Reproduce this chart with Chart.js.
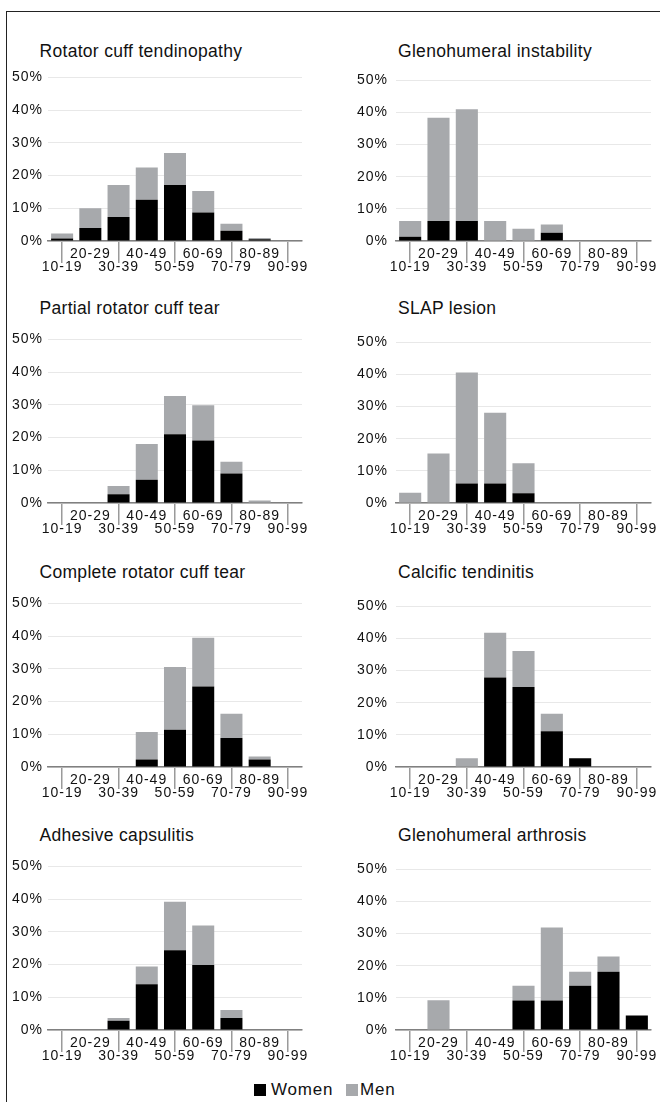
<!DOCTYPE html>
<html>
<head>
<meta charset="utf-8">
<script src="https://cdn.jsdelivr.net/npm/chart.js@4.4.1/dist/chart.umd.min.js"></script>
<style>
  html, body { margin: 0; padding: 0; background: #fff; }
  body { width: 660px; height: 1102px; position: relative; overflow: hidden; font-family: "Liberation Sans", Arial, sans-serif; }
  .frame { position: absolute; left: 6px; top: 11px; right: -4px; bottom: -4px; border-left: 1.5px solid #222; border-top: 1.5px solid #222; }
  .panel-title { position: absolute; font-size: 17.5px; line-height: 17.5px; letter-spacing: 0.3px; color: #111; white-space: nowrap; }
  canvas { position: absolute; }
  .sq { position: absolute; width: 12px; height: 12px; }
  .legend-text { position: absolute; font-size: 17px; line-height: 17px; letter-spacing: 0.8px; color: #111; }
</style>
</head>
<body>
<div class="frame"></div>
<div id="charts"></div>
<div class="sq" style="left:254px; top:1084px; background:#000;"></div>
<div class="legend-text" style="left:271px; top:1081px;">Women</div>
<div class="sq" style="left:346px; top:1084px; background:#a7a9ac;"></div>
<div class="legend-text" style="left:360px; top:1081px;">Men</div>

<script>
// Age groups on the x axis
const ageGroups = ['10-19', '20-29', '30-39', '40-49', '50-59', '60-69', '70-79', '80-89', '90-99'];
const yTicks = [0, 10, 20, 30, 40, 50];

// Percent of patients per age group (women at bottom, men stacked on top)
const tendinopathyWomen = [0.8, 4.0, 7.3, 12.6, 17.1, 8.7, 3.1, 0.5, 0];
const tendinopathyMen   = [1.5, 6.0, 9.8, 9.9, 9.8, 6.6, 2.2, 0.4, 0];

const instabilityWomen = [1.3, 6.2, 6.2, 0, 0, 2.6, 0, 0, 0];
const instabilityMen   = [4.9, 32.2, 34.8, 6.2, 3.8, 2.5, 0, 0, 0];

const partialTearWomen = [0, 0, 2.7, 7.1, 21.0, 19.1, 9.0, 0, 0];
const partialTearMen   = [0, 0, 2.5, 10.9, 11.7, 10.8, 3.6, 0.8, 0];

const slapWomen = [0, 0, 6.1, 6.1, 3.0, 0, 0, 0, 0];
const slapMen   = [3.2, 15.4, 34.5, 22.0, 9.4, 0, 0, 0, 0];

const completeTearWomen = [0, 0, 0, 2.3, 11.4, 24.6, 8.9, 2.3, 0];
const completeTearMen   = [0, 0, 0, 8.4, 19.2, 14.9, 7.4, 0.9, 0];

const calcificWomen = [0, 0, 0, 27.9, 24.9, 11.1, 2.7, 0, 0];
const calcificMen   = [0, 0, 2.7, 13.9, 11.2, 5.5, 0, 0, 0];

const capsulitisWomen = [0, 0, 2.8, 14.0, 24.4, 19.9, 3.7, 0, 0];
const capsulitisMen   = [0, 0, 0.9, 5.4, 14.8, 12.0, 2.4, 0, 0];

const arthrosisWomen = [0, 0, 0, 0, 9.2, 9.2, 13.8, 18.1, 4.5];
const arthrosisMen   = [0, 9.3, 0, 0, 4.6, 22.7, 4.3, 4.8, 0];

const panelTitles = [
  'Rotator cuff tendinopathy', 'Glenohumeral instability',
  'Partial rotator cuff tear', 'SLAP lesion',
  'Complete rotator cuff tear', 'Calcific tendinitis',
  'Adhesive capsulitis', 'Glenohumeral arthrosis'
];
const panelWomen = [tendinopathyWomen, instabilityWomen, partialTearWomen, slapWomen,
  completeTearWomen, calcificWomen, capsulitisWomen, arthrosisWomen];
const panelMen = [tendinopathyMen, instabilityMen, partialTearMen, slapMen,
  completeTearMen, calcificMen, capsulitisMen, arthrosisMen];

// layout of the 2 x 4 grid
const rowTop50 = [72, 334, 598, 861];      // y of the 50% grid line
const rowTitleBase = [57.4, 315, 579, 842]; // title baselines
const colCanvasLeft = [8, 356];
const colPlotWidth = [254, 255];
const colTitleLeft = [39.5, 398];
const colLabelPad = [5, 8];
const topPad = 8, plotHeight = 169, xAxisHeight = 32, yAxisWidth = 40, rightPad = 10;

const WOMEN_COLOR = '#000000';
const MEN_COLOR = '#a7a9ac';

// wider letter spacing like the original typesetting
const spacingPlugin = {
  id: 'spacing',
  beforeDraw(chart) { chart.ctx.letterSpacing = '1px'; }
};

const container = document.getElementById('charts');

panelTitles.forEach((title, i) => {
  const row = Math.floor(i / 2);
  const col = i % 2;

  const t = document.createElement('div');
  t.className = 'panel-title';
  t.textContent = title;
  t.style.left = colTitleLeft[col] + 'px';
  t.style.top = (rowTitleBase[row] - 14.8) + 'px';
  container.appendChild(t);

  const canvas = document.createElement('canvas');
  const w = yAxisWidth + colPlotWidth[col] + rightPad;
  const h = topPad + plotHeight + xAxisHeight;
  canvas.width = w;
  canvas.height = h;
  canvas.style.width = w + 'px';
  canvas.style.height = h + 'px';
  canvas.style.left = colCanvasLeft[col] + 'px';
  canvas.style.top = (rowTop50[row] - topPad) + 'px';
  container.appendChild(canvas);

  new Chart(canvas.getContext('2d'), {
    type: 'bar',
    data: {
      labels: ageGroups,
      datasets: [
        { label: 'Women', data: panelWomen[i], backgroundColor: WOMEN_COLOR },
        { label: 'Men', data: panelMen[i], backgroundColor: MEN_COLOR }
      ]
    },
    options: {
      responsive: false,
      animation: false,
      devicePixelRatio: 1,
      barPercentage: 0.78,
      categoryPercentage: 1.0,
      layout: { padding: { top: topPad, right: rightPad, left: 0, bottom: 0 } },
      plugins: { legend: { display: false }, tooltip: { enabled: false } },
      scales: {
        x: {
          stacked: true,
          afterFit(scale) { scale.height = xAxisHeight; scale.paddingLeft = 0; scale.paddingRight = 0; },
          border: { display: true, color: '#808080', width: 1.5 },
          grid: {
            offset: false,
            drawOnChartArea: false,
            drawTicks: true,
            tickLength: 22,
            lineWidth: 1.5,
            color: ctx => (ctx.index % 2 === 0 ? '#9a9a9a' : 'rgba(0,0,0,0)')
          },
          ticks: {
            autoSkip: false,
            maxRotation: 0,
            minRotation: 0,
            padding: -15,
            color: '#111',
            font: { family: '"Liberation Sans", Arial, sans-serif', size: 14, lineHeight: 0.93 },
            callback: (v, idx) => (idx % 2 ? [ageGroups[idx], ''] : ['', ageGroups[idx]])
          }
        },
        y: {
          stacked: true,
          min: yTicks[0],
          max: yTicks[yTicks.length - 1],
          afterFit(scale) { scale.width = yAxisWidth; },
          afterBuildTicks(scale) { scale.ticks = yTicks.map(v => ({ value: v })); },
          border: { display: false },
          grid: { color: '#e8e8e8', lineWidth: 1, drawTicks: false },
          ticks: {
            padding: colLabelPad[col],
            color: '#111',
            font: { family: '"Liberation Sans", Arial, sans-serif', size: 14 },
            callback: v => v + '%'
          }
        }
      }
    },
    plugins: [spacingPlugin]
  });
});
</script>
</body>
</html>
